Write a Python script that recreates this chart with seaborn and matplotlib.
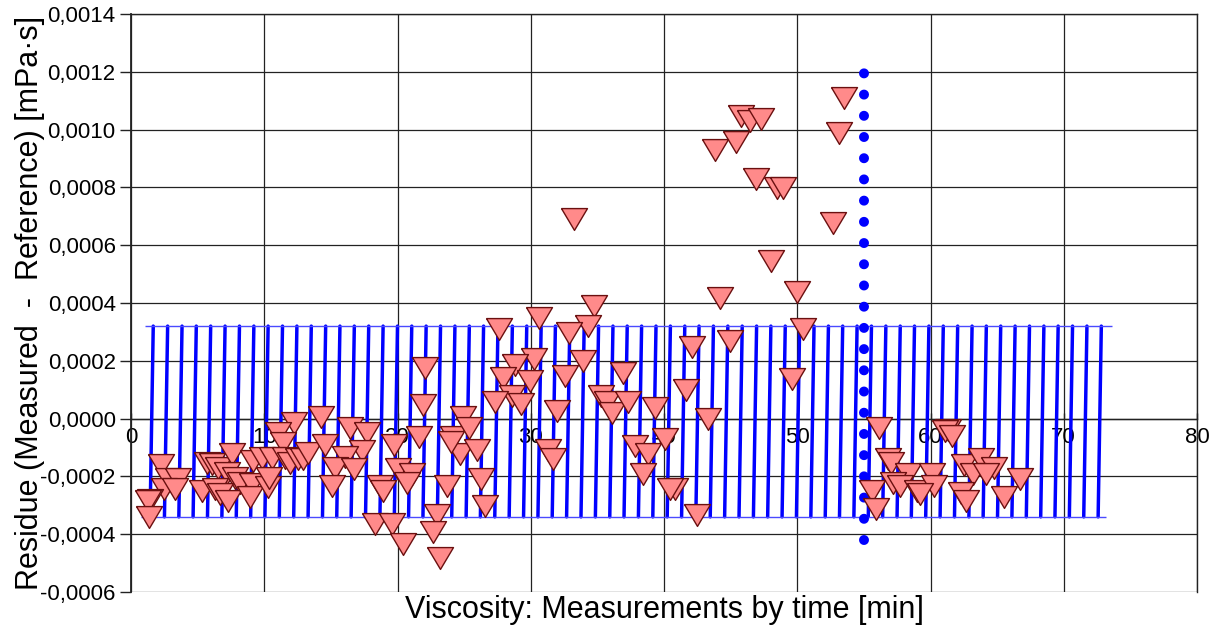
import matplotlib
matplotlib.use("Agg")
import matplotlib.pyplot as plt
import matplotlib.ticker as mticker
import numpy as np
import pandas as pd
import seaborn as sns

# ─────────────────────────────────────────────
#  DATA
# ─────────────────────────────────────────────

# residues: time [min], residue [mPa·s * 1e-3]
res_x = [
    2.25, 2.8, 3.55, 2.5, 3.3, 1.43, 1.3, 1.35, 5.68, 6.05, 6.55, 7.55, 7.2, 7.8, 8.2,
    5.3, 6.3, 6.7, 7.3, 9.18, 9.8, 9.05, 8.93, 10.3,
    12.2, 14.26, 11.05, 11.4, 10.56, 11.55, 11.9, 12.55, 12.93, 13.3, 14.56, 10.35,
    16.43, 17.7, 17.3, 16.06, 15.3, 16.7, 15.06, 19.7, 18.7, 18.9, 20.0, 18.3, 19.56, 20.4,
    22.1, 21.9, 21.6, 21.07, 20.74, 23.7, 23.0, 22.7, 23.2, 24.2, 24.9, 24.7,
    33.25, 27.6, 30.6, 34.75, 34.3, 32.9, 44.2, 44.95, 42.1, 30.25, 28.8, 27.9, 29.95,
    33.95, 32.6, 36.9, 41.65, 28.6, 27.3, 29.25, 35.3, 35.7, 36.1, 37.3, 39.3, 43.3,
    31.95, 25.4, 24.0, 26.0, 31.3, 31.65, 40.1, 37.8, 38.8, 38.45, 40.8, 40.45, 42.45,
    26.3, 26.6,
    53.5, 45.8, 46.45, 47.3, 53.1, 45.4, 43.8, 46.9, 48.45, 48.9, 52.7, 48.0, 50.0, 50.4, 49.6,
    56.1, 61.3, 61.1, 61.6, 56.8, 57.0, 58.3, 60.1, 62.5, 63.8, 64.8, 63.2, 64.2, 66.7,
    57.2, 57.7, 58.96, 60.3, 55.6, 55.9, 59.2, 62.3, 62.7, 65.5,
]
res_y = [
    -0.161, -0.210, -0.210, -0.242, -0.242, -0.280, -0.284, -0.341, -0.153, -0.158, -0.170,
    -0.122, -0.188, -0.205, -0.222, -0.251, -0.242, -0.260, -0.285, -0.145, -0.136, -0.228,
    -0.273, -0.237,
    -0.015, 0.006, -0.051, -0.084, -0.136, -0.136, -0.152, -0.141, -0.141, -0.118, -0.093, -0.205,
    -0.032, -0.051, -0.112, -0.133, -0.170, -0.176, -0.234, -0.093, -0.234, -0.251, -0.174,
    -0.364, -0.364, -0.433,
    0.176, 0.047, -0.064, -0.193, -0.222, -0.234, -0.334, -0.392, -0.482, -0.064, 0.005, -0.122,
    0.689, 0.309, 0.347, 0.389, 0.320, 0.297, 0.418, 0.268, 0.247, 0.207, 0.185, 0.139, 0.130,
    0.199, 0.147, 0.158, 0.098, 0.078, 0.058, 0.049, 0.078, 0.058, 0.020, 0.058, 0.037, -0.003,
    0.028, -0.032, -0.080, -0.110, -0.110, -0.141, -0.072, -0.095, -0.122, -0.193, -0.242, -0.242,
    -0.334, -0.210, -0.303,
    1.108, 1.047, 1.029, 1.037, 0.987, 0.958, 0.928, 0.828, 0.799, 0.797, 0.678, 0.547, 0.439,
    0.309, 0.138,
    -0.032, -0.041, -0.043, -0.061, -0.141, -0.152, -0.193, -0.193, -0.162, -0.141, -0.170,
    -0.193, -0.193, -0.210, -0.222, -0.234, -0.251, -0.234, -0.251, -0.312, -0.262, -0.257,
    -0.285, -0.272,
]

# limit band (upper / lower limit) and its measurement times
band_upper = 0.00032
band_lower = -0.00034
band_x = [
    1.55, 2.63, 3.71, 4.78, 5.86, 6.94, 8.02, 9.10, 10.17, 11.25, 12.33, 13.41, 14.49,
    15.56, 16.64, 17.72, 18.80, 19.88, 20.95, 22.03, 23.11, 24.19, 25.27, 26.34, 27.42,
    28.50, 29.58, 30.66, 31.73, 32.81, 33.89, 34.97, 36.05, 37.12, 38.20, 39.28, 40.36,
    41.44, 42.51, 43.59, 44.67, 45.75, 46.83, 47.90, 48.98, 50.06, 51.14, 52.22, 53.29,
    54.37, 55.45, 56.53, 57.61, 58.68, 59.76, 60.84, 61.92, 63.00, 64.07, 65.15, 66.23,
    67.31, 68.39, 69.46, 70.54, 71.62, 72.70,
]
band_upper_span = [1.05, 73.6]
band_lower_span = [0.75, 73.2]

# vertical marker line
mark_x = 55.0
mark_span = [-0.00042, 0.00123]

X_TICKS = np.arange(0, 81, 10)
Y_TICKS = np.arange(-0.0006, 0.00141, 0.0002)

# ─────────────────────────────────────────────
#  PLOT
# ─────────────────────────────────────────────

sns.set_theme(style="white")
plt.rcParams["font.family"] = ["Liberation Sans", "DejaVu Sans"]
plt.rcParams["axes.unicode_minus"] = False
plt.rcParams["text.color"] = "black"
plt.rcParams["xtick.color"] = "black"
plt.rcParams["ytick.color"] = "black"

fig = plt.figure(figsize=(12.13, 6.33), dpi=100)
ax = fig.add_axes([131 / 1213, 1 - 592 / 633, 1066 / 1213, 578 / 633])

# band segments (slightly slanted)
slant = 0.12
seg_rows = []
for i, bx in enumerate(band_x):
    seg_rows.append({"seg": i, "x": bx - slant, "y": band_lower})
    seg_rows.append({"seg": i, "x": bx + slant, "y": band_upper})
seg_df = pd.DataFrame(seg_rows)

sns.lineplot(data=seg_df, x="x", y="y", units="seg", estimator=None, sort=False,
             color="#0000FF", linewidth=2.5, ax=ax, zorder=3)
ax.hlines([band_upper, band_lower],
          [band_upper_span[0], band_lower_span[0]],
          [band_upper_span[1], band_lower_span[1]],
          color="#4a4aff", linewidth=1.0, zorder=3)

# dotted line
ax.plot([mark_x, mark_x], mark_span, color="#0000FF", linewidth=7.2,
        linestyle=(0, (0.001, 2.12)), dash_capstyle="round", zorder=4)

# residues
res_df = pd.DataFrame({"x": res_x, "y": np.array(res_y) * 1e-3})
tri = [(-1, 0.84), (1, 0.84), (0, -0.84), (-1, 0.84)]
sns.scatterplot(data=res_df, x="x", y="y", marker=tri, s=350,
                color="#FF8A8A", edgecolor="#6B1010", linewidth=1.0,
                ax=ax, zorder=5, legend=False)

ax.set_xlim(0, 80)
ax.set_ylim(-0.0006, 0.0014)
ax.set_xticks(X_TICKS)
ax.set_yticks(Y_TICKS)
ax.yaxis.set_major_formatter(mticker.FuncFormatter(lambda v, p: f"{v:.4f}".replace(".", ",")))
ax.xaxis.set_major_formatter(mticker.FuncFormatter(lambda v, p: f"{v:.0f}"))

ax.grid(True, color="#222222", linewidth=0.9)
ax.set_axisbelow(True)

ax.spines["bottom"].set_position(("data", 0))
for side in ["bottom", "left", "top", "right"]:
    ax.spines[side].set_color("#222222")
    ax.spines[side].set_linewidth(1.0)
ax.spines["left"].set_linewidth(1.3)

ax.tick_params(axis="y", direction="out", length=8, width=1, color="#222222",
               labelsize=16, pad=3, left=True)
ax.tick_params(axis="x", direction="in", length=4, width=1, color="#222222",
               labelsize=16, pad=6, bottom=True)

ax.set_xlabel("")
ax.set_ylabel("")
fig.text(664 / 1213, 1 - 610 / 633, "Viscosity: Measurements by time [min]",
         ha="center", va="center", fontsize=22)
fig.text(30 / 1213, 1 - 303 / 633, "Residue (Measured  -  Reference) [mPa·s]",
         ha="center", va="center", rotation=90, fontsize=22)

fig.savefig("out.png", dpi=100)
plt.close(fig)
